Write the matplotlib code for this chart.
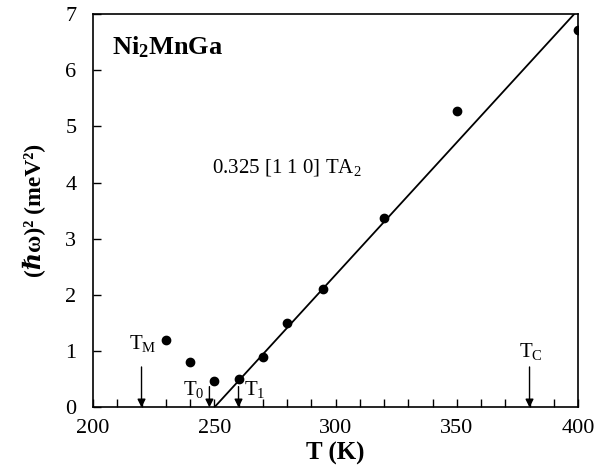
import matplotlib
matplotlib.use("Agg")
import matplotlib.pyplot as plt
import numpy as np

plt.rcParams['font.family'] = ['Liberation Serif', 'DejaVu Serif']
plt.rcParams['mathtext.fontset'] = 'custom'
plt.rcParams['mathtext.rm'] = 'Liberation Serif'
plt.rcParams['mathtext.bf'] = 'Liberation Serif:bold'

T = [230, 240, 250, 260, 270, 280, 295, 320, 350, 400]
E2 = [1.2, 0.8, 0.47, 0.5, 0.9, 1.5, 2.1, 3.38, 5.27, 6.72]
fit_T = [250, 398.4]
fit_E2 = [0.0, 7.0]

arrows_T = [220, 248, 260, 380]
arrows_top = [0.72, 0.37, 0.37, 0.72]

fig = plt.figure(figsize=(6.04, 4.71), dpi=100)
ax = fig.add_axes([0.154, 0.135, 0.803, 0.835])

ax.plot(fit_T, fit_E2, color='black', lw=1.3)
ax.plot(T, E2, 'o', color='black', ms=6)

for x, top in zip(arrows_T, arrows_top):
    ax.annotate('', xy=(x, 0.0), xytext=(x, top),
                arrowprops=dict(arrowstyle='-|>', color='black', lw=1.0,
                                mutation_scale=12, shrinkA=0, shrinkB=0))

fs = 15
ax.text(220.5, 1.12, r'T$_\mathrm{M}$', ha='center', va='center', fontsize=fs)
ax.text(241.5, 0.3, r'T$_\mathrm{0}$', ha='center', va='center', fontsize=fs)
ax.text(266.5, 0.3, r'T$_\mathrm{1}$', ha='center', va='center', fontsize=fs)
ax.text(380.5, 0.98, r'T$_\mathrm{C}$', ha='center', va='center', fontsize=fs)

ax.text(208, 6.42, r'$\mathbf{Ni_2MnGa}$', fontsize=19, ha='left', va='center')
ax.text(249, 4.25, r'0.325 [1 1 0] TA$_2$', fontsize=15, ha='left', va='center')

ax.set_xlim(200, 400)
ax.set_ylim(0, 7)
ax.set_xticks([200, 250, 300, 350, 400])
ax.set_xticks(np.arange(200, 401, 10), minor=True)
ax.set_yticks(range(0, 8))
ax.tick_params(direction='in', which='both', top=False, right=False,
               labelsize=16, length=6, width=1.0)
ax.tick_params(which='minor', length=6)
ax.tick_params(axis='x', pad=8)
ax.tick_params(axis='y', pad=12)

for s in ax.spines.values():
    s.set_linewidth(1.2)

ax.set_xlabel('T (K)', fontsize=18, fontweight='bold', labelpad=3)
ax.set_ylabel('(ℏω)² (meV²)', fontsize=17, fontweight='bold', labelpad=14)

fig.savefig('out.png', dpi=100)
